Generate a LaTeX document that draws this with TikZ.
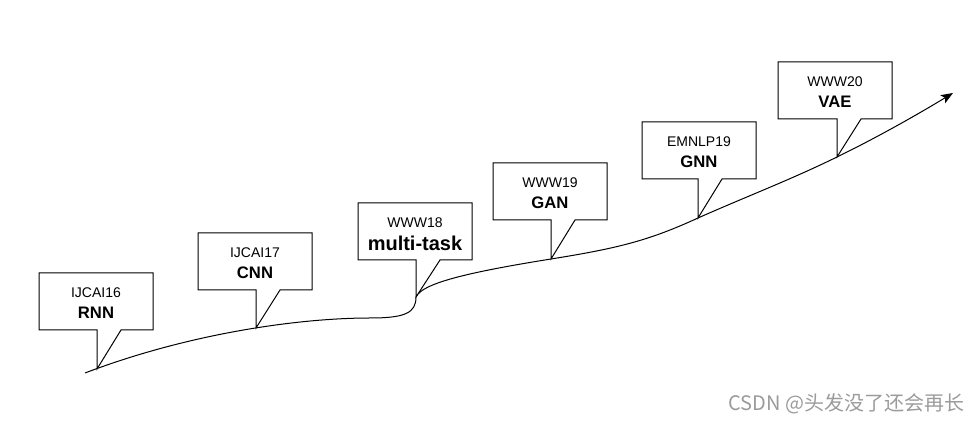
\documentclass[tikz,border=0pt]{standalone}
\usepackage{fontspec}
\setmainfont{Liberation Sans}
\newfontfamily\cjk{Noto Sans CJK SC}
\usetikzlibrary{arrows.meta}
\definecolor{wm}{RGB}{155,155,155}
\tikzset{
  box/.style={minimum width=85.5pt, minimum height=42.75pt, inner sep=0pt, outer sep=0pt},
  callout/.style={draw=black, fill=white, line width=0.75pt, line join=miter},
  venue/.style={font=\fontsize{10.5}{12}\selectfont, inner sep=0pt},
  model/.style={font=\fontsize{12.5}{14}\selectfont\bfseries, inner sep=0pt},
  bigmodel/.style={font=\fontsize{15}{17}\selectfont\bfseries, inner sep=0pt},
  trend/.style={line width=0.75pt, -{Stealth[length=9pt,width=7pt,inset=2pt]}}
}
\newcommand\mkcallout[6]{%
  \node[box] (#1) at (#2+57,#3+28.5) {};
  \draw[callout] (#1.north west) -- (#1.north east) -- (#1.south east)
    -- ([xshift=18pt]#1tip |- #1.south) -- (#1tip) -- (#1tip |- #1.south)
    -- (#1.south west) -- cycle;
  \node[venue] (#1v) at (#2+57,#3+20) {#4};
  \node[#6] (#1m) at (#2+57,#3+40) {#5};
}
\begin{document}
\begin{tikzpicture}[x=0.75pt,y=-0.75pt]
\useasboundingbox (0,0) rectangle (975,423);
\coordinate (start) at (85,373);
\coordinate (c1tip) at (97,369);
\coordinate (c2tip) at (256,328);
\coordinate (c3tip) at (416,297);
\coordinate (c4tip) at (551,259);
\coordinate (c5tip) at (698,218);
\coordinate (c6tip) at (837,157);
\coordinate (end) at (953,93);
\draw[trend] (start) .. controls (190,333) and (300,318) .. (370,318)
  .. controls (405,318) and (416,313) .. (c3tip)
  .. controls (422,283) and (470,272) .. (c4tip)
  .. controls (620,248) and (650,240) .. (c5tip)
  .. controls (750,195) and (790,180) .. (c6tip)
  .. controls (880,136) and (920,113) .. (end);
\mkcallout{c1}{39}{273}{IJCAI16}{RNN}{model}
\mkcallout{c2}{198}{233}{IJCAI17}{CNN}{model}
\mkcallout{c3}{358}{203}{WWW18}{multi-task}{bigmodel}
\mkcallout{c4}{493}{163}{WWW19}{GAN}{model}
\mkcallout{c5}{642}{122}{EMNLP19}{GNN}{model}
\mkcallout{c6}{778}{62}{WWW20}{VAE}{model}
\node[font=\cjk\fontsize{15}{17}\selectfont, text=wm, anchor=west, inner sep=0pt] (wmark) at (728,404) {CSDN @头发没了还会再长};
\end{tikzpicture}
\end{document}
